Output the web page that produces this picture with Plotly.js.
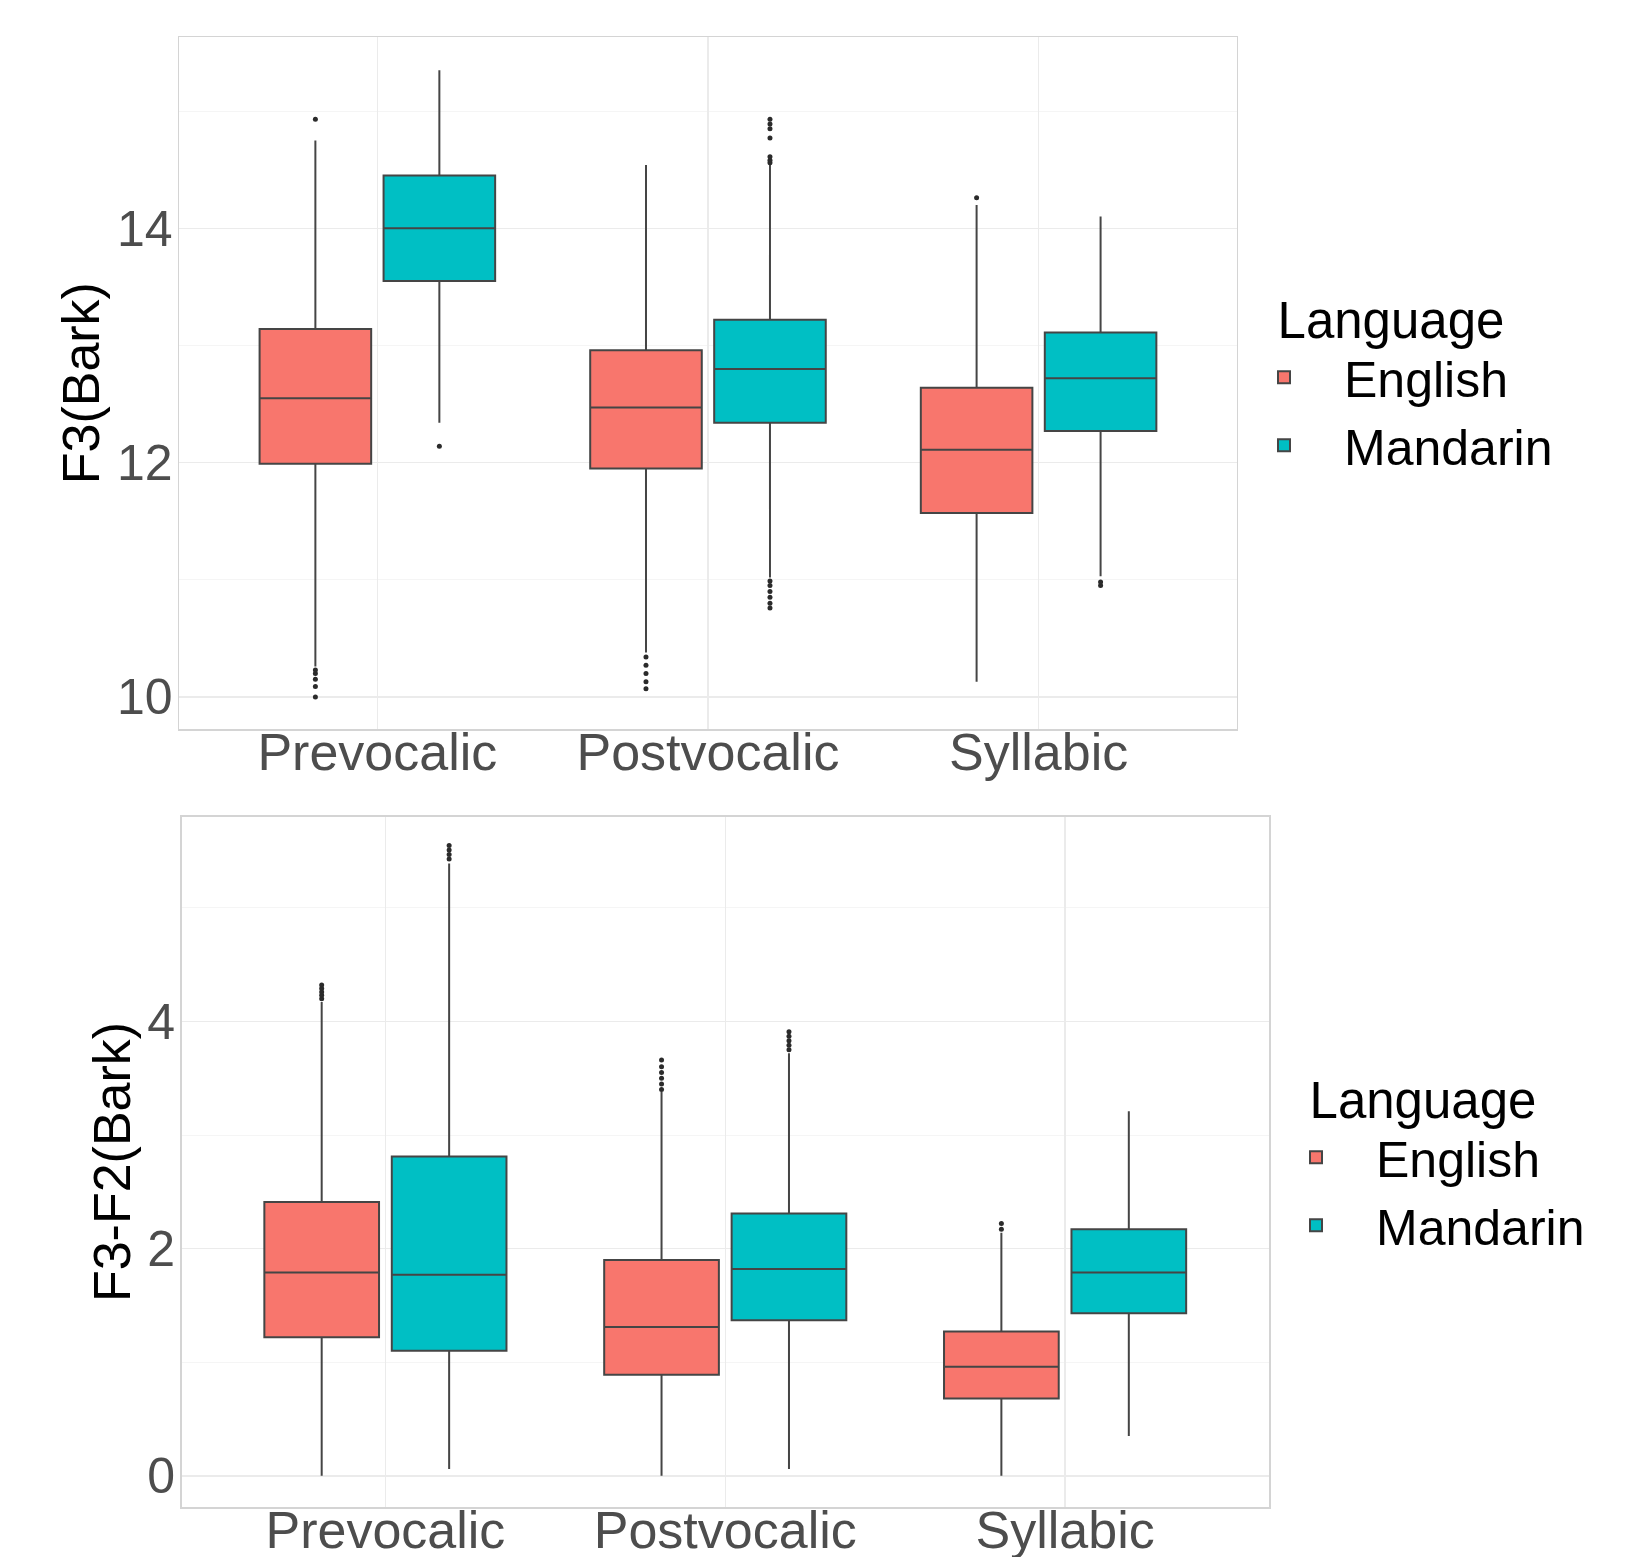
<!DOCTYPE html>
<html><head><meta charset="utf-8">
<script src="https://cdn.plot.ly/plotly-3.0.1.min.js"></script>
<style>html,body{margin:0;padding:0;background:#fff}</style>
</head><body><div id="chart" style="width:1634px;height:1557px"></div>
<script>
// ---------- data ----------
const categories = ['Prevocalic', 'Postvocalic', 'Syllabic'];
const languages = ['English', 'Mandarin'];
const legendTitle = 'Language';
const topAxisTitle = 'F3(Bark)';
const bottomAxisTitle = 'F3-F2(Bark)';

// F3 (Bark) – English
const f3EnglishQ1 = [11.99, 11.95, 11.57];
const f3EnglishMedian = [12.55, 12.47, 12.11];
const f3EnglishQ3 = [13.14, 12.96, 12.64];
const f3EnglishLow = [10.26, 10.38, 10.13];
const f3EnglishHigh = [14.75, 14.54, 14.20];
const f3EnglishOutliers = [[14.93, 10.23, 10.20, 10.15, 10.09, 10.00], [10.34, 10.27, 10.20, 10.13, 10.07], [14.26]];
// F3 (Bark) – Mandarin
const f3MandarinQ1 = [13.55, 12.34, 12.27];
const f3MandarinMedian = [14.00, 12.80, 12.72];
const f3MandarinQ3 = [14.45, 13.22, 13.11];
const f3MandarinLow = [12.34, 11.02, 11.03];
const f3MandarinHigh = [15.35, 14.54, 14.10];
const f3MandarinOutliers = [[12.14], [14.56, 14.58, 14.61, 14.77, 14.85, 14.89, 14.93, 10.99, 10.95, 10.90, 10.85, 10.80, 10.76], [10.98, 10.95]];

// F3-F2 (Bark) – English
const f32EnglishQ1 = [1.22, 0.89, 0.68];
const f32EnglishMedian = [1.79, 1.31, 0.96];
const f32EnglishQ3 = [2.41, 1.90, 1.27];
const f32EnglishLow = [0.00, 0.00, 0.00];
const f32EnglishHigh = [4.17, 3.38, 2.14];
const f32EnglishOutliers = [[4.20, 4.23, 4.26, 4.29, 4.32], [3.40, 3.45, 3.50, 3.55, 3.60, 3.66], [2.17, 2.22]];
// F3-F2 (Bark) – Mandarin
const f32MandarinQ1 = [1.10, 1.37, 1.43];
const f32MandarinMedian = [1.77, 1.82, 1.79];
const f32MandarinQ3 = [2.81, 2.31, 2.17];
const f32MandarinLow = [0.06, 0.06, 0.35];
const f32MandarinHigh = [5.39, 3.72, 3.21];
const f32MandarinOutliers = [[5.43, 5.47, 5.51, 5.55], [3.75, 3.79, 3.83, 3.87, 3.91], []];

// ---------- style ----------
const FONT = 'Liberation Sans, Arial, Helvetica, sans-serif';
const fills = ['#F8766D', '#00BFC4'];
const GRID = '#ebebeb';
const MINOR = '#f5f5f5';
const BORDER = '#d4d4d4';

function boxTrace(name, idx, q1, med, q3, lo, hi, outl, xa, ya, lg, grp) {
  return {
    type: 'box', name: name, orientation: 'v',
    x: categories, q1: q1, median: med, q3: q3,
    lowerfence: lo, upperfence: hi, y: outl,
    boxpoints: 'outliers', jitter: 0, pointpos: 0, whiskerwidth: 0,
    fillcolor: fills[idx],
    line: {color: '#454545', width: 2},
    marker: {color: '#2b2b2b', size: 5},
    xaxis: xa, yaxis: ya, legend: lg,
    offsetgroup: name, alignmentgroup: grp,
    hoverinfo: 'skip'
  };
}

const data = [
  boxTrace(languages[0], 0, f3EnglishQ1, f3EnglishMedian, f3EnglishQ3, f3EnglishLow, f3EnglishHigh, f3EnglishOutliers, 'x', 'y', 'legend', 'top'),
  boxTrace(languages[1], 1, f3MandarinQ1, f3MandarinMedian, f3MandarinQ3, f3MandarinLow, f3MandarinHigh, f3MandarinOutliers, 'x', 'y', 'legend', 'top'),
  boxTrace(languages[0], 0, f32EnglishQ1, f32EnglishMedian, f32EnglishQ3, f32EnglishLow, f32EnglishHigh, f32EnglishOutliers, 'x2', 'y2', 'legend2', 'bottom'),
  boxTrace(languages[1], 1, f32MandarinQ1, f32MandarinMedian, f32MandarinQ3, f32MandarinLow, f32MandarinHigh, f32MandarinOutliers, 'x2', 'y2', 'legend2', 'bottom')
];

function xAxis(domain, anchor) {
  return {
    domain: domain, anchor: anchor, type: 'category',
    categoryorder: 'array', categoryarray: categories, range: [-0.6, 2.6],
    showgrid: true, gridcolor: GRID, gridwidth: 1.5,
    showline: true, mirror: true, linecolor: BORDER, linewidth: 1.5,
    ticks: '', ticklabelstandoff: -23,
    tickfont: {family: FONT, size: 52, color: '#4d4d4d'},
    zeroline: false, automargin: false, fixedrange: true
  };
}
function yAxis(domain, anchor, range, title) {
  return {
    domain: domain, anchor: anchor, range: range,
    tick0: 0, dtick: 2,
    showgrid: true, gridcolor: GRID, gridwidth: 1.5,
    minor: {dtick: 1, showgrid: true, gridcolor: MINOR, gridwidth: 1},
    showline: true, mirror: true, linecolor: BORDER, linewidth: 1.5,
    ticks: '', ticklabelstandoff: -5,
    tickfont: {family: FONT, size: 50, color: '#4d4d4d'},
    title: {text: title, font: {family: FONT, size: 52, color: '#000'}, standoff: 0},
    zeroline: false, automargin: true, fixedrange: true
  };
}
function legendCfg(x, y) {
  return {
    xref: 'paper', yref: 'paper', x: x, y: y,
    xanchor: 'left', yanchor: 'top',
    title: {text: legendTitle, side: 'top center', font: {family: FONT, size: 51, color: '#000'}},
    font: {family: FONT, size: 50, color: '#000'},
    itemwidth: 110, bgcolor: 'rgba(0,0,0,0)', borderwidth: 0
  };
}

// plot area: x 179..1269, y 37..1507 (px)
const layout = {
  width: 1634, height: 1557, autosize: false,
  margin: {l: 179, r: 365, t: 37, b: 50, pad: 0},
  paper_bgcolor: '#ffffff', plot_bgcolor: '#ffffff',
  font: {family: FONT, color: '#1a1a1a'},
  boxmode: 'group', boxgap: 0.25, boxgroupgap: 0.1,
  showlegend: true,
  xaxis: xAxis([0, 0.9706], 'y'),
  yaxis: yAxis([0.529, 1], 'x', [9.723, 15.633], topAxisTitle),
  xaxis2: xAxis([0.0023, 1], 'y2'),
  yaxis2: yAxis([0, 0.4694], 'x2', [-0.275, 5.80], bottomAxisTitle),
  legend: legendCfg((1224 - 179) / 1090, (1507 - 272) / 1470),
  legend2: legendCfg((1256 - 179) / 1090, (1507 - 1052) / 1470)
};

Plotly.newPlot('chart', data, layout, {staticPlot: true, displayModeBar: false});
</script>
</body></html>
